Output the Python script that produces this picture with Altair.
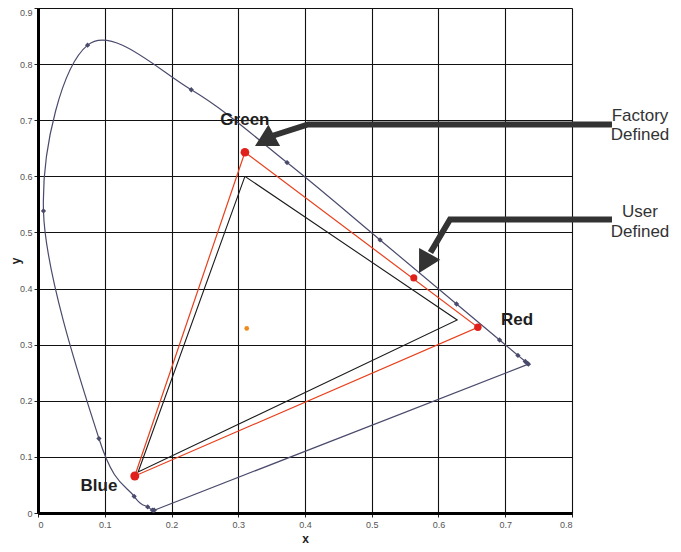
import altair as alt
import pandas as pd

# CIE 1931 spectral locus, 20 nm steps (380..700 nm)
locus_nm = [380, 400, 420, 440, 460, 480, 500, 520, 540, 560, 580, 600, 620, 640, 660, 680, 700]
locus_x = [0.1741, 0.1733, 0.1714, 0.1644, 0.1440, 0.0913, 0.0082, 0.0743, 0.2296, 0.3731,
           0.5125, 0.6270, 0.6915, 0.7190, 0.7300, 0.7334, 0.7347]
locus_y = [0.0050, 0.0048, 0.0051, 0.0109, 0.0297, 0.1327, 0.5384, 0.8338, 0.7543, 0.6245,
           0.4866, 0.3725, 0.3083, 0.2809, 0.2700, 0.2666, 0.2653]

# Gamut triangles (Green, Red, Blue, back to Green)
factory_x = [0.310, 0.628, 0.150, 0.310]
factory_y = [0.600, 0.344, 0.073, 0.600]
user_x = [0.310, 0.659, 0.145, 0.310]
user_y = [0.643, 0.331, 0.066, 0.643]

# red markers: Green, Red, Blue vertices and the user point on the G-R edge
mark_x = [0.310, 0.659, 0.145, 0.563]
mark_y = [0.643, 0.331, 0.066, 0.419]
mark_size = [75, 55, 80, 50]

white_x = [0.3127]
white_y = [0.329]

# labels
lab_text = ["Green", "Red", "Blue"]
lab_x = [0.310, 0.7176, 0.0914]
lab_y = [0.6915, 0.335, 0.0392]

note_text = ["Factory", "Defined", "User", "Defined"]
note_x = [0.9019, 0.9019, 0.9019, 0.9019]
note_y = [0.6986, 0.6648, 0.5275, 0.4919]

# arrows (shaft polylines) and heads
arrow_id = ["f", "f", "f", "u", "u", "u"]
arrow_x = [0.8599, 0.4045, 0.3528, 0.8599, 0.6172, 0.5880]
arrow_y = [0.6924, 0.6924, 0.6728, 0.5231, 0.5231, 0.4643]
head_x = [0.3251, 0.5708]
head_y = [0.6541, 0.4277]
head_angle = [241, 209]

X_DOM = [0, 0.8]
Y_DOM = [0, 0.9]
LINE_BLUE = "#4a4a6c"
RED = "#e8401c"
DARK = "#333333"

lx = '(datum.value == 0) ? "0" : format(datum.value, ".1f")'
x_axis = alt.Axis(values=[i / 10 for i in range(9)], labelExpr=lx, grid=True, gridColor="#111111",
                  gridWidth=1.1, gridOpacity=1, domainColor="black", domainWidth=3, tickColor="#222", tickSize=4,
                  labelColor="#555", labelFontSize=9, labelFont="Liberation Sans Narrow, Liberation Sans",
                  title="x", titleFontSize=12, titleFontWeight="bold", titleColor="#222",
                  titleY=25, titleBaseline="middle", labelPadding=3)
y_axis = alt.Axis(values=[i / 10 for i in range(10)], labelExpr=lx, grid=True, gridColor="#111111",
                  gridWidth=1.1, gridOpacity=1, domainColor="black", domainWidth=3, tickColor="#222", tickSize=4,
                  labelColor="#555", labelFontSize=9, labelFont="Liberation Sans Narrow, Liberation Sans",
                  labelBaseline=alt.condition("datum.value > 0.85", alt.value("top"), alt.value("middle")),
                  title="y", titleFontSize=12, titleFontWeight="bold", titleColor="#222",
                  titleX=-23, titleBaseline="middle", labelPadding=2)


def xy():
    return dict(
        x=alt.X("x:Q", scale=alt.Scale(domain=X_DOM, nice=False, zero=False), axis=x_axis),
        y=alt.Y("y:Q", scale=alt.Scale(domain=Y_DOM, nice=False, zero=False), axis=y_axis),
    )


locus = pd.DataFrame({"x": locus_x, "y": locus_y, "o": list(range(len(locus_x)))})
purple = pd.DataFrame({"x": [locus_x[-1], locus_x[0]], "y": [locus_y[-1], locus_y[0]], "o": [0, 1]})
fac = pd.DataFrame({"x": factory_x, "y": factory_y, "o": [0, 1, 2, 3]})
usr = pd.DataFrame({"x": user_x, "y": user_y, "o": [0, 1, 2, 3]})
marks = pd.DataFrame({"x": mark_x, "y": mark_y, "s": mark_size})
white = pd.DataFrame({"x": white_x, "y": white_y})
labs = pd.DataFrame({"x": lab_x, "y": lab_y, "t": lab_text})
notes = pd.DataFrame({"x": note_x, "y": note_y, "t": note_text})
arrows = pd.DataFrame({"x": arrow_x, "y": arrow_y, "id": arrow_id, "o": list(range(len(arrow_x)))})
heads = pd.DataFrame({"x": head_x, "y": head_y, "a": head_angle})

l_locus = alt.Chart(locus).mark_line(interpolate="cardinal", color=LINE_BLUE, strokeWidth=1.2, clip=False).encode(
    **xy(), order="o:Q")
l_purple = alt.Chart(purple).mark_line(color=LINE_BLUE, strokeWidth=1.2).encode(**xy(), order="o:Q")
l_locus_pts = alt.Chart(locus).mark_point(shape="diamond", filled=True, size=28, color=LINE_BLUE, opacity=1).encode(**xy())
l_fac = alt.Chart(fac).mark_line(color="#1a1a1a", strokeWidth=1.1).encode(**xy(), order="o:Q")
l_usr = alt.Chart(usr).mark_line(color=RED, strokeWidth=1.2).encode(**xy(), order="o:Q")
l_marks = alt.Chart(marks).mark_point(shape="circle", filled=True, color="#e0201a", opacity=1).encode(
    **xy(), size=alt.Size("s:Q", scale=None, legend=None))
l_white = alt.Chart(white).mark_point(shape="circle", filled=True, color="#f08a1c", size=22, opacity=1).encode(**xy())
l_arrows = alt.Chart(arrows).mark_line(color=DARK, strokeWidth=6, strokeJoin="miter", strokeCap="butt", clip=False).encode(
    **xy(), detail="id:N", order="o:Q")
l_heads = alt.Chart(heads).mark_point(shape="M0,0L-1.1,2L1.1,2Z", filled=True, color=DARK, size=484, opacity=1, clip=False).encode(
    **xy(), angle=alt.Angle("a:Q", scale=None))
l_labs = alt.Chart(labs).mark_text(fontSize=17, fontWeight="bold", font="Liberation Sans", color="#1e1e1e",
                                   baseline="alphabetic", align="center").encode(**xy(), text="t:N")
l_notes = alt.Chart(notes).mark_text(fontSize=17, font="Liberation Sans", color=DARK,
                                     baseline="alphabetic", align="center", clip=False).encode(**xy(), text="t:N")

chart = alt.layer(
    l_locus, l_purple, l_locus_pts, l_fac, l_usr, l_white, l_marks, l_arrows, l_heads, l_labs, l_notes
).properties(
    width=534, height=505,
    autosize=alt.AutoSizeParams(type="none"),
    padding={"left": 30, "top": 0, "right": 101, "bottom": 36},
).configure_view(
    stroke="black", strokeWidth=2.5
).configure(background="white")

chart.save("out.html", embed_options={"renderer": "svg", "actions": False})
